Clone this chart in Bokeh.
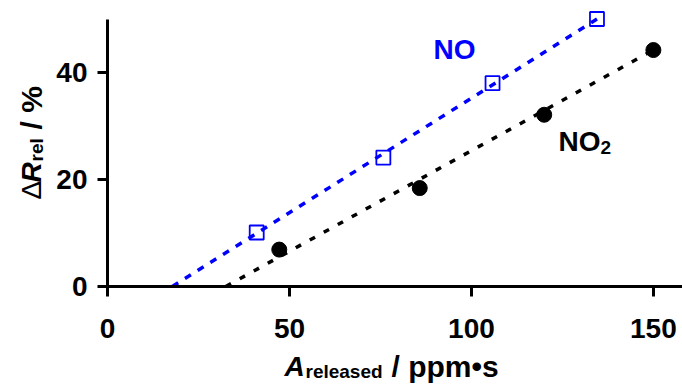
import math
from bokeh.plotting import figure
from bokeh.models import Range1d, Label, FixedTicker
from bokeh.embed import file_html
from bokeh.resources import INLINE

# ---- data ----
no_x = [41.0, 75.8, 105.8, 134.5]
no_y = [10.1, 24.1, 38.0, 50.0]
no2_x = [47.2, 85.8, 120.0, 150.0]
no2_y = [6.9, 18.4, 32.1, 44.2]
no_fit_x = [17.8, 134.5]
no_fit_y = [0.0, 50.0]
no2_fit_x = [32.5, 150.0]
no2_fit_y = [0.0, 44.2]
x_ticks = [0, 50, 100, 150]
y_ticks = [0, 20, 40]

FONT = "Liberation Sans"
BLUE = "#0000FF"
W, H = 682, 385

p = figure(width=W, height=H, output_backend="svg", toolbar_location=None,
           x_range=Range1d(-29.4, 158), y_range=Range1d(-18.5, 53.46),
           min_border=0, min_border_left=0, min_border_right=0,
           min_border_top=0, min_border_bottom=0)
p.outline_line_color = None
p.xgrid.visible = False
p.ygrid.visible = False
p.background_fill_color = "white"
p.border_fill_color = "white"

for ax in (p.xaxis[0], p.yaxis[0]):
    ax.fixed_location = 0
    ax.axis_line_width = 3
    ax.axis_line_color = "black"
    ax.major_tick_line_width = 3
    ax.major_tick_line_color = "black"
    ax.major_tick_out = 10
    ax.major_tick_in = 0
    ax.minor_tick_line_color = None
    ax.major_label_text_font = FONT
    ax.major_label_text_font_size = "28px"
    ax.major_label_text_font_style = "bold"
    ax.major_label_text_color = "black"
    ax.axis_label = None

p.xaxis.ticker = FixedTicker(ticks=x_ticks)
p.yaxis.ticker = FixedTicker(ticks=y_ticks)
p.yaxis.bounds = (0, 50)
p.xaxis.bounds = (0, 158)
p.yaxis.major_label_standoff = 10
p.xaxis.major_label_standoff = 22

p.line(no_fit_x, no_fit_y, line_color=BLUE, line_width=3.5, line_dash="7 8")
p.line(no2_fit_x, no2_fit_y, line_color="black", line_width=3.5, line_dash="6 10")
p.scatter(no_x, no_y, marker="square", size=14, fill_alpha=0,
          line_color=BLUE, line_width=1.8)
p.scatter(no2_x, no2_y, marker="circle", size=15, fill_color="black",
          line_color="black")

CORR = 11


def lab(text, cx, cy, size, style="bold", color="black", angle=0.0, font=FONT):
    # cx, cy: canvas position of the text baseline start
    p.add_layout(Label(x=cx, y=H - cy, x_units="screen", y_units="screen",
                       text=text, text_font=font, text_font_size=size,
                       text_font_style=style, text_color=color,
                       text_baseline="alphabetic", text_align="left",
                       angle=angle))


# series labels
lab("NO", 433, 60 - CORR, "28px", color=BLUE)
lab("NO", 558, 152 - CORR, "28px")
lab("2", 600, 158 - CORR, "19px")

# x axis title
lab("A", 284, 377 - CORR, "28px", style="bold italic")
lab("released", 305, 382 - CORR, "19px")
lab("/ ppm\u2022s", 391, 377 - CORR, "30px")

# y axis title (rotated)
a = math.pi / 2
bx = 42 - CORR
lab("\u0394", bx, 199, "28px", style="normal", angle=a)
lab("R", bx, 182, "28px", style="bold italic", angle=a)
lab("rel", bx + 5, 161, "19px", angle=a)
lab("/ %", bx, 129, "30px", angle=a)

open("out.html", "w").write(file_html(p, INLINE))
